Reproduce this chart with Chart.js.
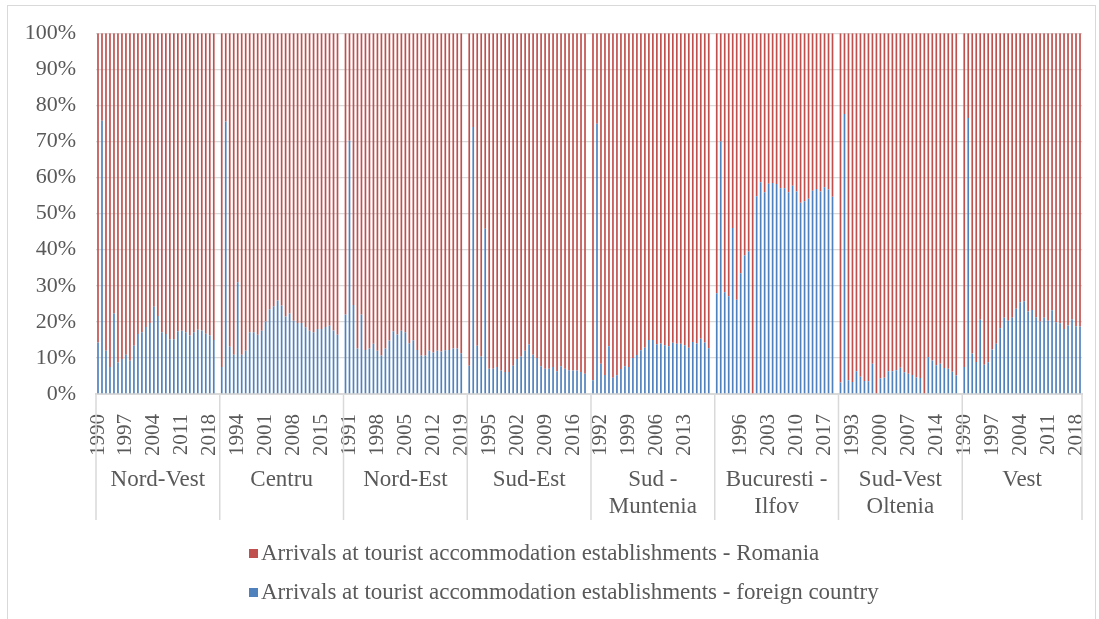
<!DOCTYPE html>
<html>
<head>
<meta charset="utf-8">
<script src="https://cdn.jsdelivr.net/npm/chart.js@4.4.1/dist/chart.umd.min.js"></script>
<style>
  html, body { margin: 0; padding: 0; background: #fff; }
  #wrap { position: relative; width: 1099px; height: 619px; overflow: hidden; }
  #frame { position: absolute; left: 7px; top: 5px; width: 1089px; height: 700px; border: 1px solid #d9d9d9; box-sizing: border-box; }
  .legend-item { position: absolute; left: 249px; font: 23px 'Liberation Serif', 'Times New Roman', serif; color: #595959; white-space: nowrap; line-height: 26px; }
  .legend-item i { display: inline-block; width: 9px; height: 9px; margin-right: 3px; vertical-align: 2px; }
</style>
</head>
<body>
<div id="wrap">
  <div id="frame"></div>
  <canvas id="regionChart"></canvas>
  <div id="legend"></div>
</div>
<script>
// years shown for each region, a blank slot separates the regions
const YEARS = [1990, 1991, 1992, 1993, 1994, 1995, 1996, 1997, 1998, 1999,
               2000, 2001, 2002, 2003, 2004, 2005, 2006, 2007, 2008, 2009,
               2010, 2011, 2012, 2013, 2014, 2015, 2016, 2017, 2018, 2019];

const REGIONS = [['Nord-Vest'], ['Centru'], ['Nord-Est'], ['Sud-Est'],
                 ['Sud -', 'Muntenia'], ['Bucuresti -', 'Ilfov'], ['Sud-Vest', 'Oltenia'], ['Vest']];

// share of arrivals from a foreign country, %
const NORD_VEST        = [14.3, 75.7, 12.0, 7.5, 22.3, 8.7, 9.7, 10.9, 9.2, 13.4, 16.6, 17.1, 18.6, 19.7, 24.2, 21.6, 17.1, 16.6, 15.2, 15.2, 17.4, 17.5, 17.1, 16.2, 17.1, 17.8, 17.6, 16.7, 16.2, 15.0];
const CENTRU           = [7.5, 75.5, 13.1, 10.9, 31.0, 10.9, 12.0, 17.1, 17.1, 16.4, 17.5, 20.1, 23.5, 24.3, 25.9, 24.5, 21.5, 22.3, 20.3, 19.7, 19.7, 18.5, 17.5, 17.1, 18.0, 18.0, 18.6, 18.9, 17.6, 16.4];
const NORD_EST         = [22.0, 70.2, 24.7, 12.6, 22.0, 12.2, 12.6, 13.9, 12.0, 10.7, 12.6, 14.8, 17.4, 16.5, 17.5, 17.1, 14.1, 14.9, 12.2, 10.7, 10.7, 12.0, 11.5, 12.0, 11.8, 12.1, 12.2, 12.6, 12.6, 11.3];
const SUD_EST          = [7.8, 74.0, 13.4, 10.4, 45.8, 7.0, 7.0, 7.5, 6.5, 6.1, 6.1, 7.8, 9.7, 10.4, 12.0, 13.7, 10.9, 10.0, 7.7, 7.0, 7.0, 7.5, 6.3, 7.7, 7.0, 6.6, 6.5, 6.5, 6.1, 5.6];
const SUD_MUNTENIA     = [3.8, 74.9, 8.4, 5.3, 13.2, 4.5, 5.2, 6.9, 7.7, 7.5, 10.0, 10.8, 12.1, 12.8, 15.0, 15.0, 13.8, 14.0, 13.5, 13.2, 14.2, 13.9, 13.9, 13.5, 12.8, 14.4, 14.0, 15.3, 14.3, 12.7];
const BUCURESTI_ILFOV  = [27.9, 70.0, 28.2, 27.1, 46.0, 26.1, 33.5, 38.4, 39.5, 0, 54.8, 58.7, 55.9, 58.3, 58.5, 58.2, 57.0, 57.0, 55.9, 57.7, 56.1, 53.0, 53.4, 54.1, 56.3, 56.8, 56.1, 57.3, 56.7, 54.7];
const SUD_VEST_OLTENIA = [3.2, 77.6, 3.8, 3.3, 6.3, 4.8, 3.6, 3.5, 8.4, 0, 4.3, 4.5, 6.3, 6.3, 6.6, 7.3, 6.0, 5.6, 5.3, 4.6, 4.4, 0, 10.2, 9.3, 8.0, 8.4, 7.2, 7.0, 6.2, 5.1];
const VEST             = [7.5, 76.5, 11.2, 8.9, 20.6, 8.1, 8.8, 12.3, 13.9, 18.2, 21.1, 20.3, 21.1, 23.6, 25.4, 25.7, 22.9, 23.3, 21.3, 20.1, 21.1, 20.3, 23.2, 19.9, 19.6, 18.0, 19.0, 20.7, 18.8, 18.7];

const FOREIGN_BY_REGION = [NORD_VEST, CENTRU, NORD_EST, SUD_EST, SUD_MUNTENIA, BUCURESTI_ILFOV, SUD_VEST_OLTENIA, VEST];

const SERIES_LABELS = ['Arrivals at tourist accommodation establishments - Romania',
                       'Arrivals at tourist accommodation establishments - foreign country'];

const RED  = '#C0504D';
const BLUE = '#4F81BD';
const TEXT = '#595959';
const GRID = '#d9d9d9';
const FONT = "'Liberation Serif', 'Times New Roman', serif";

// flatten regions into one category axis
const labels = [], foreign = [], romania = [], groupSizes = [];
FOREIGN_BY_REGION.forEach((vals, r) => {
  vals.forEach((v, i) => {
    labels.push(String(YEARS[i]));
    foreign.push(v);
    romania.push(100 - v); // 100% stacked: the rest of the bar
  });
  let size = vals.length;
  if (r < FOREIGN_BY_REGION.length - 1) {
    labels.push('');
    foreign.push(null);
    romania.push(null);
    size++;
  }
  groupSizes.push(size);
});

const regionLabels = {
  id: 'regionLabels',
  afterDraw(chart) {
    const { ctx, chartArea } = chart;
    const x = chart.scales.x;
    const half = (x.getPixelForValue(1) - x.getPixelForValue(0)) / 2;
    const top = chartArea.bottom, bottom = x.bottom;
    ctx.save();
    ctx.strokeStyle = GRID;
    ctx.lineWidth = 1.5;
    ctx.fillStyle = TEXT;
    ctx.font = '23px ' + FONT;
    ctx.textAlign = 'center';
    ctx.textBaseline = 'middle';
    let idx = 0, left = x.left;
    const line = px => { ctx.beginPath(); ctx.moveTo(px, top); ctx.lineTo(px, bottom); ctx.stroke(); };
    line(left);
    groupSizes.forEach((size, r) => {
      const right = x.getPixelForValue(idx + size - 1) + half;
      line(right);
      REGIONS[r].forEach((txt, k) => ctx.fillText(txt, (left + right) / 2, top + 86 + k * 27));
      idx += size;
      left = right;
    });
    ctx.restore();
  },
};

Chart.defaults.font.family = FONT;
Chart.defaults.font.size = 21;
Chart.defaults.color = TEXT;

new Chart(document.getElementById('regionChart'), {
  type: 'bar',
  data: {
    labels,
    datasets: [
      { label: SERIES_LABELS[1], data: foreign, backgroundColor: BLUE, barPercentage: 0.42, categoryPercentage: 1 },
      { label: SERIES_LABELS[0], data: romania, backgroundColor: RED,  barPercentage: 0.42, categoryPercentage: 1 },
    ],
  },
  options: {
    responsive: true, maintainAspectRatio: false, animation: false,
    layout: { padding: { top: 32, right: 17, bottom: 99, left: 0 } },
    plugins: { legend: { display: false }, tooltip: { enabled: false } },
    scales: {
      x: {
        stacked: true,
        grid: { display: false },
        border: { display: true, color: GRID, width: 2 },
        ticks: {
          autoSkip: false, minRotation: 90, maxRotation: 90, padding: 12,
          callback: (v, i) => (i % 7 === 0 ? labels[i] : ''),
        },
        afterFit: s => { s.height = 126; s.paddingLeft = 0; s.paddingRight = 0; },
      },
      y: {
        stacked: true, min: 0, max: 100,
        grid: { color: GRID, lineWidth: 1.3, drawTicks: false },
        border: { display: false },
        ticks: { stepSize: 10, padding: 20, font: { size: 22 }, callback: v => v + '%' },
        afterFit: s => { s.width = 96; },
      },
    },
  },
  plugins: [regionLabels],
});

// legend, Romania first as in the original
const legend = document.getElementById('legend');
[[SERIES_LABELS[0], RED, 540], [SERIES_LABELS[1], BLUE, 579]].forEach(([txt, col, top]) => {
  const d = document.createElement('div');
  d.className = 'legend-item';
  d.style.top = top + 'px';
  d.innerHTML = '<i style="background:' + col + '"></i>' + txt;
  legend.appendChild(d);
});
</script>
</body>
</html>
